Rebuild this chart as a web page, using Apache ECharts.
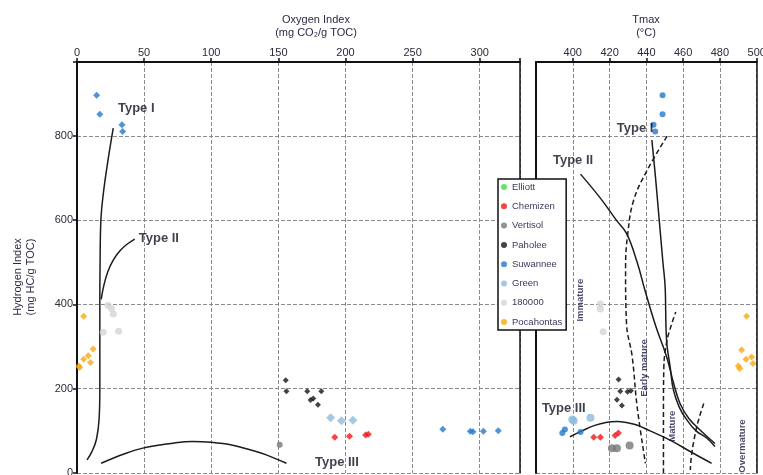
<!DOCTYPE html>
<html><head><meta charset="utf-8">
<script src="https://cdn.jsdelivr.net/npm/echarts@6/dist/echarts.min.js"></script>
<style>html,body{margin:0;padding:0;background:#fff}#chart{width:763px;height:475px}</style>
</head><body><div id="chart"></div>
<script>
// Sample sets, in legend order
const samples = ['Elliott', 'Chemizen', 'Vertisol', 'Paholee', 'Suwannee', 'Green', '180000', 'Pocahontas'];

// Tick labels
const oiTicks = [0, 50, 100, 150, 200, 250, 300];
const tmaxTicks = [400, 420, 440, 460, 480, 500];
const hiTicks = [0, 200, 400, 600, 800];

// Hydrogen index vs oxygen index: [OI, HI]
const oiElliott = [];
const oiChemizen = [[192, 85], [203, 87], [215, 90], [217, 92]];
const oiVertisol = [[151, 67]];
const oiPaholee = [[155.5, 220], [156, 194], [171.5, 194], [182, 194], [174, 173], [176, 177], [179.5, 162]];
const oiSuwannee = [[14.6, 896], [17, 851], [33.5, 826], [34, 810], [272.5, 104], [293, 99], [295, 98], [302.7, 99], [313.8, 100]];
const oiGreen = [[189, 131], [197, 124], [205.5, 125]];
const oi180000 = [[23, 398], [25.7, 390], [27, 377], [19.5, 334], [31, 336]];
const oiPocahontas = [[5, 372], [12, 294], [8.4, 278], [5, 270], [10, 262], [1.5, 254], [2, 250]];

// Hydrogen index vs Tmax: [Tmax, HI]
const tmaxElliott = [];
const tmaxChemizen = [[411.4, 85], [415, 85], [423, 89], [424.8, 95]];
const tmaxVertisol = [[421.3, 59], [424, 59], [430.9, 65]];
const tmaxPaholee = [[424.9, 222], [425.8, 194], [429.8, 193], [431.6, 195], [424, 174], [426.7, 160]];
const tmaxSuwannee = [[448.8, 896], [448.8, 851], [443.9, 826], [444.8, 810], [394.3, 95], [395.7, 103], [404.2, 97]];
const tmaxGreen = [[399.7, 127], [400.5, 124], [409.6, 131]];
const tmax180000 = [[415, 401], [415, 389], [416.5, 335]];
const tmaxPocahontas = [[494.5, 372], [491.8, 292], [494.2, 270], [497.2, 275], [490, 254], [490.8, 248], [498, 260]];

// Kerogen evolution paths, HI vs OI
const oiTypeI = [[27, 818], [23, 740], [19.5, 660], [17.8, 600], [17.2, 500], [17, 400], [17, 300], [17, 200], [16.5, 130], [14.5, 80], [11, 50], [7.5, 31]];
const oiTypeII = [[18, 412], [20, 445], [23, 478], [27, 505], [32, 527], [37, 542], [43, 555]];
const oiTypeIII = [[18, 23], [35, 45], [49, 59], [70, 70], [86, 75], [100, 73], [116, 66], [130, 54], [141, 43], [156, 23]];

// Kerogen evolution paths, HI vs Tmax
const tmaxTypeI = [[443, 790], [445, 700], [447, 600], [449, 500], [450.2, 443], [451, 315], [453, 250], [454.7, 197], [458, 155], [462, 126], [467, 100], [472.8, 83], [477.3, 63]];
const tmaxTypeII = [[404.2, 709], [415, 652], [424, 598], [429.3, 568], [435, 500], [439.2, 434], [445, 350], [451, 276], [455, 210], [458.3, 165], [463, 130], [469.2, 102], [477.3, 70]];
const tmaxTypeIII = [[398.5, 86], [405, 100], [412, 113], [418, 120], [424, 122], [430, 119], [434.8, 114], [442, 100], [452.9, 78], [465, 48], [475.5, 23]];

// Maturity zone boundaries, HI vs Tmax
const boundaryImmature = [[451.3, 799], [440.4, 718], [433.1, 647], [429.9, 568], [428.7, 489], [429.2, 355], [432.3, 276], [435, 157], [439.5, 23]];
const boundaryEarly = [[449.3, 0], [449.3, 150], [449.5, 250], [451, 310], [453.5, 350], [456, 382]];
const boundaryMature = [[471.2, 165], [468, 120], [466, 80], [464.5, 40], [463.9, 7]];

// Annotations
const oiTypeLabels = [{ name: 'Type I', value: [30.5, 865] }, { name: 'Type II', value: [46, 557] }, { name: 'Type III', value: [177.3, 26] }];
const tmaxTypeLabels = [{ name: 'Type I', value: [423.9, 818] }, { name: 'Type II', value: [389.2, 742] }, { name: 'Type III', value: [383.2, 154] }];
const zoneLabels = [{ name: 'Immature', value: [404, 410] }, { name: 'Early mature', value: [438.9, 249] }, { name: 'Mature', value: [454, 111] }, { name: 'Overmature', value: [492, 64] }];

const colors = {
  Elliott: '#3ddc3d', Chemizen: '#f01616', Vertisol: '#777777', Paholee: '#151515',
  Suwannee: '#2478cc', Green: '#8fbcdc', '180000': '#d4d4d4', Pocahontas: '#f7a90f'
};
const FONT = 'Liberation Sans, Arial, sans-serif';

function scatter(name, data, gi, symbol, size) {
  return {
    type: 'scatter', name, data,
    xAxisIndex: gi, yAxisIndex: gi * 2,
    symbol, symbolSize: size,
    itemStyle: { color: colors[name] },
    z: 4
  };
}
function path(data, gi, dashed) {
  return {
    type: 'line', data, xAxisIndex: gi, yAxisIndex: gi * 2,
    smooth: 0.4, symbol: 'none', silent: true, z: 3,
    lineStyle: { color: '#1c1c1c', width: 1.5, type: dashed ? [5, 3] : 'solid' }
  };
}
function textMarks(data, gi, opts) {
  return {
    type: 'scatter', data, xAxisIndex: gi, yAxisIndex: gi * 2,
    symbolSize: 0, silent: true, z: 6,
    label: Object.assign({
      show: true, position: [0, 0], align: 'left', verticalAlign: 'middle',
      formatter: p => p.name, fontFamily: FONT, fontWeight: 'bold', fontSize: 13, color: '#111122'
    }, opts || {})
  };
}

const grid = '#8a8a8a';
function xAx(gi, min, max, interval, ticks, hideMin) {
  return {
    type: 'value', gridIndex: gi, position: 'top', min, max, interval,
    axisLine: { show: true, onZero: false, lineStyle: { color: '#111', width: 2 } },
    axisTick: { show: true, length: 4, lineStyle: { color: '#111', width: 1.5 } },
    axisLabel: {
      margin: 4, fontSize: 11, fontFamily: FONT, color: '#2a2a3a', showMinLabel: !hideMin,
      formatter: v => ticks.includes(v) ? String(v) : ''
    },
    splitLine: { show: true, lineStyle: { color: grid, type: [4, 2], width: 1 } }
  };
}
function yAx(gi, position, labels) {
  return {
    type: 'value', gridIndex: gi, position, min: 0, max: 975, interval: 200,
    axisLine: { show: true, onZero: false, lineStyle: { color: '#111', width: position === 'left' ? 2 : 1.5 } },
    axisTick: { show: labels, length: 4, lineStyle: { color: '#111', width: 1.5 } },
    axisLabel: {
      show: labels, margin: 4, fontSize: 11, fontFamily: FONT, color: '#2a2a3a',
      formatter: v => hiTicks.includes(v) ? String(v) : ''
    },
    splitLine: { show: position === 'left', lineStyle: { color: grid, type: [4, 2], width: 1 } }
  };
}

const series = [
  path(oiTypeI, 0), path(oiTypeII, 0), path(oiTypeIII, 0),
  path(tmaxTypeI, 1), path(tmaxTypeII, 1), path(tmaxTypeIII, 1),
  path(boundaryImmature, 1, true), path(boundaryEarly, 1, true), path(boundaryMature, 1, true),

  scatter('Elliott', oiElliott, 0, 'circle', 6),
  scatter('Chemizen', oiChemizen, 0, 'diamond', 7),
  scatter('Vertisol', oiVertisol, 0, 'circle', 6),
  scatter('Paholee', oiPaholee, 0, 'diamond', 6),
  scatter('Suwannee', oiSuwannee, 0, 'diamond', 7),
  scatter('Green', oiGreen, 0, 'diamond', 9),
  scatter('180000', oi180000, 0, 'circle', 7),
  scatter('Pocahontas', oiPocahontas, 0, 'diamond', 7),

  scatter('Elliott', tmaxElliott, 1, 'circle', 6),
  scatter('Chemizen', tmaxChemizen, 1, 'diamond', 7),
  scatter('Vertisol', tmaxVertisol, 1, 'circle', 8),
  scatter('Paholee', tmaxPaholee, 1, 'diamond', 6),
  scatter('Suwannee', tmaxSuwannee, 1, 'circle', 6),
  scatter('Green', tmaxGreen, 1, 'circle', 8),
  scatter('180000', tmax180000, 1, 'circle', 7),
  scatter('Pocahontas', tmaxPocahontas, 1, 'diamond', 7),

  textMarks(oiTypeLabels, 0),
  textMarks(tmaxTypeLabels, 1),
  textMarks(zoneLabels, 1, { rotate: 90, align: 'center', fontSize: 9.5, fontWeight: 'bold', color: '#1a1a44' })
];

const titleFont = '11px ' + FONT;
const chart = echarts.init(document.getElementById('chart'), null, { renderer: 'canvas' });
chart.setOption({
  animation: false,
  backgroundColor: '#fff',
  grid: [
    { left: 77, top: 62, width: 443, bottom: 2, outerBoundsMode: 'none' },
    { left: 536, top: 62, width: 220.7, bottom: 2, outerBoundsMode: 'none' }
  ],
  xAxis: [
    xAx(0, 0, 330, 50, oiTicks, false),
    xAx(1, 380, 500, 20, tmaxTicks, true)
  ],
  yAxis: [
    yAx(0, 'left', true), yAx(0, 'right', false),
    yAx(1, 'left', false), yAx(1, 'right', false)
  ],
  legend: {
    data: samples, orient: 'vertical', left: 498, top: 179,
    padding: [3, 4, 3, 3], itemGap: 9.3, itemWidth: 6, itemHeight: 6,
    icon: 'circle', selectedMode: false,
    backgroundColor: '#fff', borderColor: '#111', borderWidth: 1.5,
    textStyle: { fontSize: 9.5, lineHeight: 10, fontFamily: FONT, color: '#3a3a5c' },
    z: 10
  },
  graphic: [
    { type: 'text', x: 316, y: 20, style: { text: 'Oxygen Index', font: titleFont, fill: '#2a2a44', align: 'center', verticalAlign: 'middle' } },
    { type: 'text', x: 316, y: 33, style: { text: '(mg CO\u2082/g TOC)', font: titleFont, fill: '#2a2a44', align: 'center', verticalAlign: 'middle' } },
    { type: 'text', x: 646, y: 20, style: { text: 'Tmax', font: titleFont, fill: '#2a2a44', align: 'center', verticalAlign: 'middle' } },
    { type: 'text', x: 646, y: 33, style: { text: '(\u00B0C)', font: titleFont, fill: '#2a2a44', align: 'center', verticalAlign: 'middle' } },
    { type: 'text', x: 18, y: 277, rotation: Math.PI / 2, style: { text: 'Hydrogen Index', font: titleFont, fill: '#2a2a44', align: 'center', verticalAlign: 'middle' } },
    { type: 'text', x: 31, y: 277, rotation: Math.PI / 2, style: { text: '(mg HC/g TOC)', font: titleFont, fill: '#2a2a44', align: 'center', verticalAlign: 'middle' } }
  ],
  series
});
</script>
</body></html>
